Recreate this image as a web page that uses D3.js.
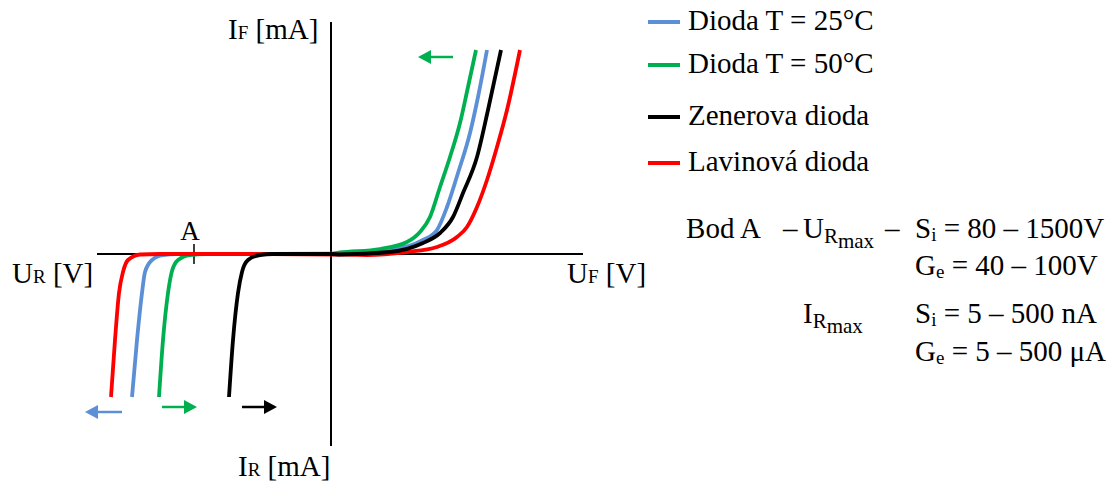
<!DOCTYPE html>
<html>
<head>
<meta charset="utf-8">
<script src="https://cdn.jsdelivr.net/npm/d3@7"></script>
<style>
  body { margin: 0; background: white; }
  text { font-family: "Liberation Serif", serif; fill: #000; }
</style>
</head>
<body>
<div id="chart"></div>
<script>
// series names + colours (legend order)
let seriesNames = ['Dioda T = 25°C', 'Dioda T = 50°C', 'Zenerova dioda', 'Lavinová dioda'];
let seriesColors = ['#5b8fd6', '#00b050', '#000000', '#ff0000'];

// curve points [U, I] in relative units
let diode25 = [[-19.9,-14.3],[-19.4,-8.6],[-18.9,-3.9],[-18.6,-1.8],[-17.9,-0.6],[-16.8,-0.1],[-15.4,0],[-8,0],[0,0.02],
  [0.9,0.08],[5.9,0.4],[9.2,1.4],[10.6,2.4],[11.6,4.7],[12.7,8.1],[13.9,12.1],[14.7,15.7],[15.6,20.4]];
let diode50 = [[-17.2,-14.3],[-16.8,-8.6],[-16.3,-3.9],[-15.9,-1.7],[-15.3,-0.6],[-14.1,-0.1],[-12.5,0],[-6,0],[0,0.03],
  [0.9,0.15],[4.9,0.5],[7.6,1.2],[8.9,2.2],[9.9,3.7],[10.9,6.7],[11.9,9.7],[12.9,13.1],[13.7,16.7],[14.5,20.4]];
let zener = [[-10.2,-14.3],[-9.8,-8.6],[-9.3,-3.9],[-8.9,-1.8],[-8.3,-0.6],[-7.1,-0.1],[-5.8,0],[0,0],
  [0.9,-0.05],[5.9,0.2],[9.2,1.1],[10.9,2.1],[12.2,3.7],[13.2,6.1],[14.6,9.7],[15.7,14.4],[17.0,20.4]];
let avalanche = [[-22,-14.3],[-21.6,-8.6],[-21.2,-3.9],[-20.8,-1.8],[-20.3,-0.6],[-19.1,-0.05],[-17.1,0],[-8,0],[0,-0.05],
  [3.6,-0.1],[7.6,0.2],[10.6,0.7],[12.6,1.7],[13.6,2.7],[14.6,4.7],[15.6,7.4],[16.6,10.7],[17.6,14.4],[18.9,20.4]];

// shift arrows: [x1, x2, y, colour]
let shiftArrows = [
  [-20.9, -24.6, -15.8, '#5b8fd6'],
  [-16.9, -13.4, -15.3, '#00b050'],
  [-8.9, -5.4, -15.3, '#000000'],
  [12.2, 8.7, 19.7, '#00b050']
];

let pointA = -13.7;

let width = 1109,
  height = 482;

let svg = d3.select('#chart')
  .append('svg')
    .attr('width', width)
    .attr('height', height)
    .style('background', 'white');

// 10 px per unit, origin at (331, 254)
let xScale = d3.scaleLinear()
  .domain([-23.4, 25.2])
  .range([97, 583]);
let yScale = d3.scaleLinear()
  .domain([-19.2, 23.2])
  .range([446, 22]);

// axes
svg.append('line')
  .attr('x1', xScale(-23.4)).attr('x2', xScale(25.2))
  .attr('y1', yScale(0)).attr('y2', yScale(0))
  .attr('stroke', 'black').attr('stroke-width', 2);
svg.append('line')
  .attr('x1', xScale(0)).attr('x2', xScale(0))
  .attr('y1', yScale(-19.2)).attr('y2', yScale(23.2))
  .attr('stroke', 'black').attr('stroke-width', 2);

// point A tick
svg.append('line')
  .attr('x1', xScale(pointA)).attr('x2', xScale(pointA))
  .attr('y1', yScale(1)).attr('y2', yScale(-1))
  .attr('stroke', 'black').attr('stroke-width', 1.5);
svg.append('text')
  .attr('x', xScale(pointA) - 4)
  .attr('y', 240)
  .attr('text-anchor', 'middle')
  .style('font-size', '27px')
  .text('A');

// curves (drawing order: blue, green, red, black)
let line = d3.line()
  .x(d => xScale(d[0]))
  .y(d => yScale(d[1]))
  .curve(d3.curveMonotoneX);

let curves = [[diode25, seriesColors[0]], [diode50, seriesColors[1]], [avalanche, seriesColors[3]], [zener, seriesColors[2]]];
svg.append('g')
  .selectAll('path')
  .data(curves)
  .enter()
  .append('path')
    .attr('d', d => line(d[0]))
    .attr('fill', 'none')
    .attr('stroke', d => d[1])
    .attr('stroke-width', 3.8)
    .attr('stroke-linejoin', 'round');

// arrows
let arrowG = svg.append('g');
shiftArrows.forEach(a => {
  let x1 = xScale(a[0]), x2 = xScale(a[1]), y = yScale(a[2]);
  let dir = x2 > x1 ? 1 : -1;
  let head = 13;
  arrowG.append('line')
    .attr('x1', x1).attr('x2', x2 - dir * head)
    .attr('y1', y).attr('y2', y)
    .attr('stroke', a[3]).attr('stroke-width', 2.5);
  arrowG.append('path')
    .attr('d', 'M' + x2 + ',' + y + 'L' + (x2 - dir * head) + ',' + (y - 7) + 'L' + (x2 - dir * head) + ',' + (y + 7) + 'Z')
    .attr('fill', a[3]);
});

// axis labels with small caps-like subscripts
function axisLabel(x, y, main, sub, rest) {
  let t = svg.append('text')
    .attr('x', x).attr('y', y)
    .style('font-size', '29px');
  t.append('tspan').text(main);
  t.append('tspan').style('font-size', '19px').text(sub);
  t.append('tspan').text(' ' + rest);
}
axisLabel(228, 39, 'I', 'F', '[mA]');
axisLabel(12, 283, 'U', 'R', '[V]');
axisLabel(567, 283, 'U', 'F', '[V]');
axisLabel(238, 476, 'I', 'R', '[mA]');

// legend
let legendY = [22, 65, 117, 163];
let legend = svg.append('g')
  .selectAll('g')
  .data(seriesNames)
  .enter()
  .append('g');
legend.append('line')
  .attr('x1', 648).attr('x2', 680)
  .attr('y1', (d, i) => legendY[i]).attr('y2', (d, i) => legendY[i])
  .attr('stroke', (d, i) => seriesColors[i])
  .attr('stroke-width', 4);
legend.append('text')
  .attr('x', 688)
  .attr('y', (d, i) => legendY[i] + 8)
  .style('font-size', '29px')
  .text(d => d);

// right-hand notes
function plain(x, y, s, anchor) {
  svg.append('text').attr('x', x).attr('y', y)
    .attr('text-anchor', anchor || 'start')
    .style('font-size', '29px').text(s);
}
function subMax(x, y, letter) {
  let t = svg.append('text').attr('x', x).attr('y', y).style('font-size', '29px');
  t.append('tspan').text(letter);
  t.append('tspan').attr('dy', 5).style('font-size', '21px').text('R');
  t.append('tspan').attr('dy', 5).style('font-size', '21px').text('max');
}
function material(x, y, letter, sub, rest) {
  let t = svg.append('text').attr('x', x).attr('y', y).style('font-size', '29px');
  t.append('tspan').text(letter);
  t.append('tspan').attr('dy', 3).style('font-size', '19px').text(sub);
  t.append('tspan').attr('dy', -3).text(' ' + rest);
}
plain(761, 238, 'Bod A', 'end');
plain(783, 238, '–');
subMax(803, 238, 'U');
plain(885, 238, '–');
material(915, 238, 'S', 'i', '= 80 – 1500V');
material(915, 275, 'G', 'e', '= 40 – 100V');
subMax(803, 323, 'I');
material(915, 323, 'S', 'i', '= 5 – 500 nA');
material(915, 361, 'G', 'e', '= 5 – 500 μA');
</script>
</body>
</html>
